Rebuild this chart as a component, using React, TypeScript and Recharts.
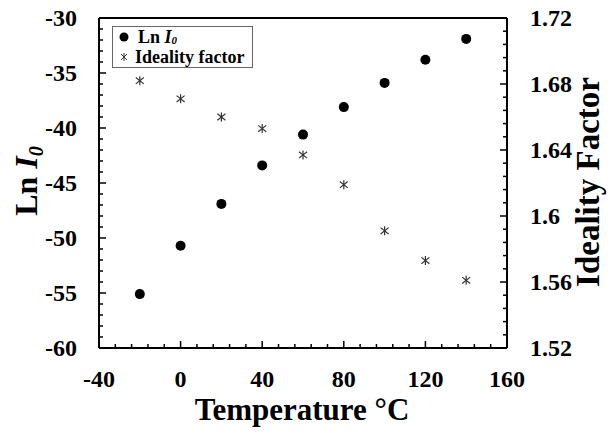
import { ScatterChart, Scatter, XAxis, YAxis, Legend } from "recharts";

// temperature (°C) and the two measured series
const temps = [-20, 0, 20, 40, 60, 80, 100, 120, 140];
const lnI0 = [-55.1, -50.7, -46.9, -43.4, -40.6, -38.1, -35.9, -33.8, -31.9];
const ideality = [1.682, 1.671, 1.66, 1.653, 1.637, 1.619, 1.591, 1.573, 1.561];

// tick positions (major + minor)
const xTicks = [-40, -32, -24, -16, -8, 0, 8, 16, 24, 32, 40, 48, 56, 64, 72, 80, 88, 96, 104, 112, 120, 128, 136, 144, 152, 160];
const leftTicks = Array.from({ length: 31 }, (_, i) => -60 + i);
const rightTicks = Array.from({ length: 26 }, (_, i) => +(1.52 + i * 0.008).toFixed(3));

const lnData = temps.map((t, i) => ({ t, v: lnI0[i] }));
const idData = temps.map((t, i) => ({ t, v: ideality[i] }));

const FONT = '"Liberation Serif", "Times New Roman", serif';

const Dot = (props: any) => <circle cx={props.cx} cy={props.cy} r={5} fill="#000" />;

const Star = (props: any) => {
  const { cx, cy } = props;
  const s = 4;
  return (
    <g stroke="#333" strokeWidth={1.2}>
      <line x1={cx - s} y1={cy - s * 0.8} x2={cx + s} y2={cy + s * 0.8} />
      <line x1={cx - s} y1={cy + s * 0.8} x2={cx + s} y2={cy - s * 0.8} />
      <line x1={cx} y1={cy - s - 0.5} x2={cx} y2={cy + s + 0.5} />
    </g>
  );
};

const BottomTick = (props: any) => {
  const { x, y, payload } = props;
  const major = payload.value % 40 === 0;
  return (
    <g>
      <line x1={x} y1={y} x2={x} y2={y - (major ? 7 : 4)} stroke="#000" strokeWidth={1.5} />
      {major && (
        <text x={x} y={y + 39} textAnchor="middle" fontFamily={FONT} fontWeight="bold" fontSize={24} fill="#000">
          {payload.value}
        </text>
      )}
    </g>
  );
};

const TopTick = (props: any) => {
  const { x, y, payload } = props;
  const major = payload.value % 40 === 0;
  return <line x1={x} y1={y} x2={x} y2={y + (major ? 7 : 4)} stroke="#000" strokeWidth={1.5} />;
};

const LeftTick = (props: any) => {
  const { x, y, payload } = props;
  const major = payload.value % 5 === 0;
  return (
    <g>
      <line x1={x} y1={y} x2={x + (major ? 7 : 4)} y2={y} stroke="#000" strokeWidth={1.5} />
      {major && (
        <text x={x - 22} y={y} dy="0.35em" textAnchor="end" fontFamily={FONT} fontWeight="bold" fontSize={24} fill="#000">
          {payload.value}
        </text>
      )}
    </g>
  );
};

const RightTick = (props: any) => {
  const { x, y, payload } = props;
  const idx = Math.round((payload.value - 1.52) / 0.008);
  const major = idx % 5 === 0;
  return (
    <g>
      <line x1={x} y1={y} x2={x - (major ? 7 : 4)} y2={y} stroke="#000" strokeWidth={1.5} />
      {major && (
        <text x={x + 23} y={y} dy="0.35em" textAnchor="start" fontFamily={FONT} fontWeight="bold" fontSize={24} fill="#000">
          {String(+payload.value.toFixed(2))}
        </text>
      )}
    </g>
  );
};

const LegendBox = () => (
  <div
    style={{
      border: "1px solid #666",
      background: "#fff",
      width: 139,
      height: 40,
      fontFamily: FONT,
      fontWeight: "bold",
      fontSize: 18,
      lineHeight: "20px",
      color: "#000",
      boxSizing: "content-box",
    }}
  >
    <div style={{ display: "flex", alignItems: "center", height: 20 }}>
      <svg width={25} height={20}>
        <circle cx={11} cy={10} r={4.5} fill="#000" />
      </svg>
      <span style={{ lineHeight: 1 }}>
        Ln <i>I</i>
        <i style={{ fontSize: 11, position: "relative", top: 1 }}>0</i>
      </span>
    </div>
    <div style={{ display: "flex", alignItems: "center", height: 20 }}>
      <svg width={22} height={20}>
        <g stroke="#333" strokeWidth={1}>
          <line x1={8} y1={7} x2={14} y2={13} />
          <line x1={8} y1={13} x2={14} y2={7} />
          <line x1={11} y1={6} x2={11} y2={14} />
        </g>
      </svg>
      <span style={{ lineHeight: 1 }}>Ideality factor</span>
    </div>
  </div>
);

export default function App() {
  return (
    <div style={{ position: "absolute", left: 0, top: 0, width: 608, height: 433, background: "#fff" }}>
      <ScatterChart width={608} height={433} margin={{ top: 0, right: 0, bottom: 0, left: 0 }}>
        <XAxis
          xAxisId="x"
          dataKey="t"
          type="number"
          domain={[-40, 160]}
          ticks={xTicks}
          interval={0}
          height={85}
          tickSize={0}
          tickMargin={0}
          tick={<BottomTick />}
          axisLine={{ stroke: "#000", strokeWidth: 2 }}
          label={{
            content: () => (
              <text x={302} y={420} textAnchor="middle" fontFamily={FONT} fontWeight="bold" fontSize={31} fill="#000">
                Temperature °C
              </text>
            ),
          }}
        />
        <XAxis
          xAxisId="top"
          orientation="top"
          type="number"
          domain={[-40, 160]}
          ticks={xTicks}
          interval={0}
          height={18}
          tickSize={0}
          tickMargin={0}
          tick={<TopTick />}
          axisLine={{ stroke: "#000", strokeWidth: 2 }}
        />
        <YAxis
          yAxisId="left"
          dataKey="v"
          type="number"
          domain={[-60, -30]}
          ticks={leftTicks}
          interval={0}
          width={99}
          tickSize={0}
          tickMargin={0}
          tick={<LeftTick />}
          axisLine={{ stroke: "#000", strokeWidth: 2 }}
          label={{
            content: () => (
              <text transform="translate(37,181) rotate(-90)" textAnchor="middle" fontFamily={FONT} fontWeight="bold" fontSize={32} fill="#000">
                Ln <tspan fontStyle="italic">I</tspan>
                <tspan fontStyle="italic" fontSize={20} dy={6}>0</tspan>
              </text>
            ),
          }}
        />
        <YAxis
          yAxisId="right"
          orientation="right"
          dataKey="v"
          type="number"
          domain={[1.52, 1.72]}
          ticks={rightTicks}
          interval={0}
          width={101}
          tickSize={0}
          tickMargin={0}
          tick={<RightTick />}
          axisLine={{ stroke: "#000", strokeWidth: 2 }}
          label={{
            content: () => (
              <text transform="translate(599,182) rotate(-90)" textAnchor="middle" fontFamily={FONT} fontWeight="bold" fontSize={33} fill="#000">
                Ideality Factor
              </text>
            ),
          }}
        />
        <Legend
          layout="vertical"
          align="center"
          verticalAlign="middle"
          content={() => <LegendBox />}
          wrapperStyle={{ position: "absolute", left: 112, top: 26, width: "auto", height: "auto" }}
        />
        <Scatter name="Ln I0" data={lnData} xAxisId="x" yAxisId="left" shape={Dot} fill="#000" isAnimationActive={false} />
        <Scatter name="Ideality factor" data={idData} xAxisId="x" yAxisId="right" shape={Star} fill="#333" isAnimationActive={false} />
      </ScatterChart>
    </div>
  );
}
